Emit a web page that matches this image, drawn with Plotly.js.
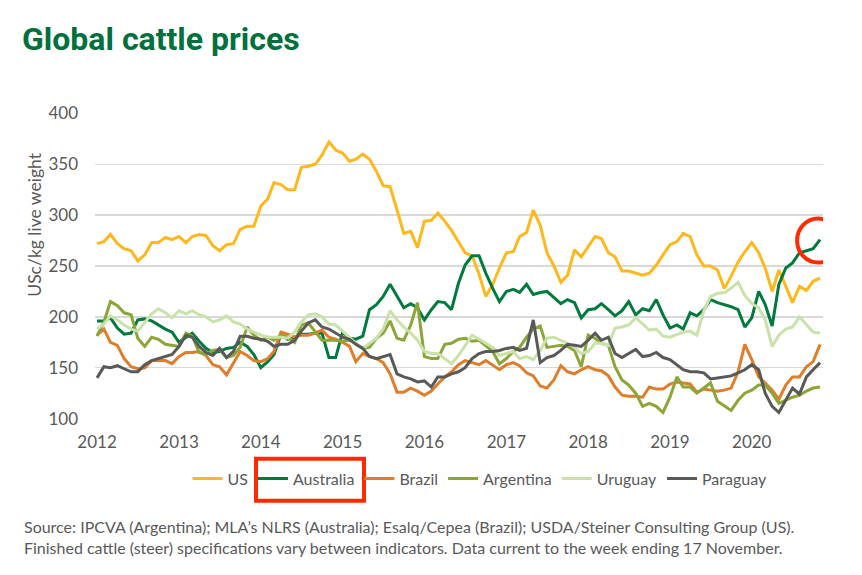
<!DOCTYPE html>
<html>
<head>
<meta charset="utf-8">
<script src="https://cdn.plot.ly/plotly-3.0.1.min.js"></script>
<style>html,body{margin:0;padding:0;background:#fff;}#chart{width:862px;height:575px;}</style>
</head>
<body>
<div id="chart"></div>
<script>
// Monthly observations, January 2012 to November 2020 (USc/kg live weight)
var startYear = 2012;
var yearTicks = ['2012','2013','2014','2015','2016','2017','2018','2019','2020'];

var us = [272,274,281,272,267,265,255,261,273,273,278,276,
          279,273,279,281,280,270,265,271,272,286,289,289,
          309,316,332,330,325,325,347,348,350,359,372,364,
          361,353,355,360,355,343,329,328,305,282,284,268,
          294,295,302,294,285,274,263,260,242,220,232,248,
          263,264,279,283,305,290,263,250,234,241,266,259,
          269,279,277,263,259,245,245,243,241,243,251,261,
          271,274,282,279,261,250,250,246,228,240,254,264,
          273,263,248,225,246,230,214,230,226,235,238];

var australia = [196,196,199,189,183,184,197,198,196,192,188,185,
          175,180,184,176,169,165,166,169,170,175,171,163,
          150,156,163,183,178,180,183,183,184,184,160,160,
          185,179,178,181,207,212,220,232,220,209,213,209,
          197,207,215,214,207,233,251,260,260,243,228,215,
          225,227,224,232,222,224,225,219,213,217,214,199,
          207,208,213,207,201,206,215,202,208,206,217,202,
          189,192,188,204,201,207,217,214,212,210,207,190,
          199,225,212,191,232,248,253,263,265,267,276];

var brazil = [182,188,175,172,159,151,149,150,157,157,157,154,
          161,165,165,166,162,153,151,143,154,166,162,157,
          156,159,166,185,183,180,182,182,184,187,180,178,
          175,171,156,164,161,159,155,144,126,126,130,127,
          123,127,134,141,146,153,157,155,153,157,152,148,
          153,155,152,145,142,132,130,138,152,146,144,148,
          151,148,147,142,131,123,122,122,121,131,129,129,
          134,136,135,134,126,129,128,127,128,130,146,173,
          158,141,135,128,119,133,141,141,151,156,173];

var argentina = [181,195,215,211,204,202,179,171,180,178,173,172,
          171,184,181,165,163,167,168,160,162,170,190,182,
          177,180,177,182,180,175,192,194,185,177,177,177,
          176,177,174,169,170,179,184,196,179,177,192,214,
          161,159,159,173,174,178,179,176,177,172,166,154,
          159,166,170,180,188,191,170,171,172,171,167,151,
          182,179,174,172,151,138,133,125,112,115,112,106,
          121,141,131,131,125,130,135,117,112,108,118,125,
          128,133,133,125,115,118,121,123,127,130,131];

var uruguay = [188,193,201,197,192,188,186,195,203,208,204,199,
          206,203,206,202,200,195,197,201,195,193,188,185,
          182,180,180,180,179,185,195,202,203,200,193,192,
          186,180,174,169,174,179,188,206,197,190,184,177,
          166,164,164,159,154,162,172,182,178,174,170,162,
          164,166,159,161,158,167,179,180,177,174,170,164,
          166,174,174,172,189,190,192,199,193,187,188,181,
          180,183,185,186,182,206,220,223,224,228,234,221,
          213,209,197,171,182,188,190,200,192,185,184];

var paraguay = [140,151,150,152,149,146,146,153,157,159,161,163,
          171,182,180,171,165,162,169,160,166,181,181,179,
          178,176,171,173,173,177,186,194,197,190,188,184,
          180,178,173,169,161,159,161,163,144,141,139,136,
          137,131,141,141,144,146,150,159,164,166,166,167,
          169,170,167,169,197,155,160,162,167,173,172,171,
          177,184,177,180,164,160,164,168,161,162,165,160,
          158,153,148,146,146,145,139,140,141,142,145,148,
          153,148,125,112,106,118,130,124,141,148,155];

var seriesNames = ['US','Australia','Brazil','Argentina','Uruguay','Paraguay'];
var seriesValues = [us, australia, brazil, argentina, uruguay, paraguay];
var seriesColors = ['#FFB81C','#007A3D','#E07D2A','#8BA637','#C9E2A9','#595959'];

function pad(n){return n<10?'0'+n:''+n;}
var dates = [];
for (var i = 0; i < us.length; i++) {
  var y = startYear + Math.floor(i/12), m = i % 12 + 1;
  dates.push(y + '-' + pad(m) + '-01');
}
var tickDates = yearTicks.map(function(t){return t + '-01-01';});

var traces = seriesNames.map(function(name, k){
  return {
    type:'scatter', mode:'lines', name:name, x:dates, y:seriesValues[k],
    line:{color:seriesColors[k], width:3}, hoverinfo:'skip'
  };
});

var gray = '#595959';
var baseFont = 'Lato, "Open Sans", sans-serif';
var lastDate = dates[dates.length-1];
var lastAus = australia[australia.length-1];

var layout = {
  width:862, height:575,
  margin:{l:95, r:39, t:113, b:156},
  paper_bgcolor:'#ffffff', plot_bgcolor:'#ffffff',
  font:{family:baseFont, color:gray, size:15},
  title:{
    text:'<b>Global cattle prices</b>',
    xref:'container', yref:'container', x:22/862, xanchor:'left', y:1-39/575, yanchor:'middle',
    font:{family:'Roboto, sans-serif', size:32, color:'#00703C'}
  },
  xaxis:{
    type:'date', range:['2011-12-23','2020-11-14'],
    tickvals:tickDates, ticktext:yearTicks,
    showgrid:false, zeroline:false, showline:false, ticks:'',
    tickfont:{family:baseFont, size:17, color:gray}, ticklabelstandoff:11
  },
  yaxis:{
    range:[99.6,400.4], tickvals:[100,150,200,250,300,350,400],
    showgrid:true, gridcolor:'#D9D9D9', gridwidth:1.3,
    zeroline:false, showline:false, ticks:'',
    tickfont:{family:baseFont, size:17, color:gray}, ticklabelstandoff:16
  },
  showlegend:true,
  legend:{
    orientation:'h', x:(480-95)/728, xanchor:'center', y:(419.3-479)/306, yanchor:'middle',
    bgcolor:'rgba(0,0,0,0)',
    font:{family:baseFont, size:16, color:gray}, traceorder:'normal', itemwidth:30
  },
  annotations:[
    {text:'USc/kg live weight', textangle:-90, xref:'paper', yref:'paper',
     x:(35-95)/728, y:(419.3-225)/306, xanchor:'center', yanchor:'middle', showarrow:false,
     font:{family:baseFont, size:17.5, color:gray}},
    {text:'Source: IPCVA (Argentina); MLA\u2019s NLRS (Australia); Esalq/Cepea (Brazil); USDA/Steiner Consulting Group (US).<br>Finished cattle (steer) specifications vary between indicators. Data current to the week ending 17 November.',
     xref:'paper', yref:'paper', x:(22-95)/728, y:(419.3-537)/306, xanchor:'left', yanchor:'middle',
     align:'left', showarrow:false, font:{family:baseFont, size:16, color:gray}}
  ],
  shapes:[
    {type:'circle', xref:'x', yref:'y', xsizemode:'pixel', ysizemode:'pixel',
     xanchor:lastDate, yanchor:lastAus, x0:-23, x1:19, y0:-23, y1:21,
     line:{color:'#FF2A00', width:4}},
    {type:'rect', xref:'paper', yref:'paper',
     x0:(256-95)/728, x1:(364-95)/728, y0:(419.3-501)/306, y1:(419.3-459)/306,
     line:{color:'#FF2A00', width:4}}
  ]
};

Plotly.newPlot('chart', traces, layout, {staticPlot:true, displayModeBar:false});
</script>
</body>
</html>
